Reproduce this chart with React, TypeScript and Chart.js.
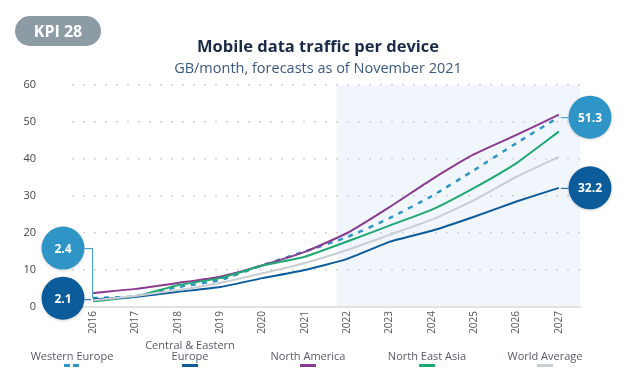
import React, { useEffect, useRef } from "react";
import { Chart, registerables } from "chart.js";

Chart.register(...registerables);

const years = ["2016", "2017", "2018", "2019", "2020", "2021", "2022", "2023", "2024", "2025", "2026", "2027"];
const westernEurope = [2.4, 2.9, 5.4, 7.3, 11.3, 15, 18.9, 24, 30, 37, 44.3, 51.3];
const centralEasternEurope = [2.1, 2.7, 4.1, 5.4, 7.8, 10, 13, 17.6, 20.6, 24.4, 28.5, 32.2];
const northAmerica = [3.8, 4.9, 6.5, 8.2, 11.3, 14.9, 20, 27, 34.5, 41.3, 46.5, 52];
const northEastAsia = [1.5, 2.8, 5.9, 7.8, 11.2, 13.6, 17.7, 22, 26.3, 32.2, 38.9, 47.4];
const worldAverage = [1.8, 3.0, 4.6, 6.5, 9.1, 11.9, 15.4, 19.5, 23.6, 28.9, 35.2, 40.6];
const yTicks = [0, 10, 20, 30, 40, 50, 60];

const C_WE = "#2f95c6";
const C_CEE = "#0c5b9b";
const C_NA = "#8a3b8f";
const C_NEA = "#1ea872";
const C_WA = "#c9ced3";

const legendItems = [
  { label: "Western Europe", color: C_WE, dashed: true, x: 72 },
  { label: "Central & Eastern\nEurope", color: C_CEE, dashed: false, x: 190 },
  { label: "North America", color: C_NA, dashed: false, x: 308 },
  { label: "North East Asia", color: C_NEA, dashed: false, x: 427 },
  { label: "World Average", color: C_WA, dashed: false, x: 545 },
];

const FONT = "'Open Sans', 'DejaVu Sans', sans-serif";

const shadePlugin = {
  id: "shade",
  beforeDraw(chart: any) {
    const { ctx, chartArea, scales } = chart;
    const xs = scales.x;
    const step = xs.getPixelForValue(1) - xs.getPixelForValue(0);
    const x0 = xs.getPixelForValue(5) + step * 0.75;
    ctx.save();
    ctx.fillStyle = "#f0f6fb";
    ctx.fillRect(x0, chartArea.top, chartArea.right - x0, chartArea.bottom - chartArea.top);
    ctx.restore();
  },
};

function circle(ctx: any, x: number, y: number, r: number, color: string, text: string) {
  ctx.save();
  ctx.shadowColor = "rgba(0,0,0,0.18)";
  ctx.shadowBlur = 3;
  ctx.shadowOffsetY = 1;
  ctx.beginPath();
  ctx.arc(x, y, r, 0, Math.PI * 2);
  ctx.fillStyle = color;
  ctx.fill();
  ctx.restore();
  ctx.save();
  ctx.fillStyle = "#ffffff";
  ctx.font = `bold 12px ${FONT}`;
  ctx.textAlign = "center";
  ctx.textBaseline = "middle";
  ctx.fillText(text, x, y + 1);
  ctx.restore();
}

const calloutPlugin = {
  id: "callouts",
  afterDraw(chart: any) {
    const { ctx, scales } = chart;
    const xs = scales.x;
    const ys = scales.y;
    const r = 21.5;
    const xFirst = xs.getPixelForValue(0);
    const xLast = xs.getPixelForValue(years.length - 1);
    const last = years.length - 1;

    const yWE0 = ys.getPixelForValue(westernEurope[0]);
    const yCEE0 = ys.getPixelForValue(centralEasternEurope[0]);
    const cxL = 63;
    const cyWE = yWE0 - 50;
    ctx.save();
    ctx.lineWidth = 1;
    ctx.strokeStyle = C_WE;
    ctx.beginPath();
    ctx.moveTo(cxL + r, cyWE + 0.5);
    ctx.lineTo(xFirst - 0.5, cyWE + 0.5);
    ctx.lineTo(xFirst - 0.5, yWE0);
    ctx.stroke();
    ctx.strokeStyle = C_CEE;
    ctx.beginPath();
    ctx.moveTo(cxL + r, yCEE0 + 0.5);
    ctx.lineTo(xFirst - 2, yCEE0 + 0.5);
    ctx.stroke();
    ctx.restore();
    circle(ctx, cxL, cyWE, r, C_WE, String(westernEurope[0]));
    circle(ctx, cxL, yCEE0 - 1, r, C_CEE, String(centralEasternEurope[0]));

    const cxR = 590;
    const yWEn = ys.getPixelForValue(westernEurope[last]);
    const yCEEn = ys.getPixelForValue(centralEasternEurope[last]);
    ctx.save();
    ctx.lineWidth = 1;
    ctx.strokeStyle = C_WE;
    ctx.beginPath();
    ctx.moveTo(xLast + 2, yWEn + 0.5);
    ctx.lineTo(cxR - r, yWEn + 0.5);
    ctx.stroke();
    ctx.strokeStyle = C_CEE;
    ctx.beginPath();
    ctx.moveTo(xLast + 2, yCEEn + 0.5);
    ctx.lineTo(cxR - r, yCEEn + 0.5);
    ctx.stroke();
    ctx.restore();
    circle(ctx, cxR, yWEn, r, C_WE, String(westernEurope[last]));
    circle(ctx, cxR, yCEEn, r, C_CEE, String(centralEasternEurope[last]));
  },
};

export default function App() {
  const ref = useRef<HTMLCanvasElement>(null);

  useEffect(() => {
    if (!ref.current) return;
    const line = (label: string, data: number[], color: string, extra: any = {}) => ({
      label,
      data,
      borderColor: color,
      backgroundColor: color,
      borderWidth: 2,
      pointRadius: 0,
      tension: 0.15,
      fill: false,
      ...extra,
    });
    const chart = new Chart(ref.current, {
      type: "line",
      data: {
        labels: years,
        datasets: [
          line("World Average", worldAverage, C_WA),
          line("Central & Eastern Europe", centralEasternEurope, C_CEE),
          line("North East Asia", northEastAsia, C_NEA),
          line("North America", northAmerica, C_NA),
          line("Western Europe", westernEurope, C_WE, { borderDash: [5, 6], borderWidth: 2.5 }),
        ],
      },
      options: {
        responsive: false,
        animation: false,
        layout: { padding: { left: 0, right: 46, top: 85, bottom: 53 } },
        plugins: { legend: { display: false }, tooltip: { enabled: false } },
        scales: {
          x: {
            offset: true,
            afterFit: (s: any) => {
              s.height = 30;
            },
            grid: { display: false, drawTicks: false },
            border: { display: true, color: "#e2e2e2", width: 2 },
            ticks: {
              color: "#555",
              font: { family: FONT, size: 10 },
              minRotation: 90,
              maxRotation: 90,
              padding: 4,
              autoSkip: false,
            },
          },
          y: {
            min: 0,
            max: 60,
            afterFit: (s: any) => {
              s.width = 72;
            },
            afterBuildTicks: (s: any) => {
              s.ticks = yTicks.map((v) => ({ value: v }));
            },
            grid: {
              drawTicks: false,
              color: (c: any) => (c.tick && c.tick.value === 0 ? "rgba(0,0,0,0)" : "#d2d2d2"),
              lineWidth: 1.5,
            },
            border: { display: false, dash: [2, 9] },
            ticks: {
              color: "#444",
              font: { family: FONT, size: 11 },
              padding: 36,
            },
          },
        },
      },
      plugins: [shadePlugin, calloutPlugin],
    } as any);
    return () => chart.destroy();
  }, []);

  return (
    <div style={{ position: "fixed", left: 0, top: 0, width: 626, height: 390, background: "#fff", fontFamily: FONT }}>
      <canvas ref={ref} width={626} height={390} style={{ position: "absolute", left: 0, top: 0 }} />
      <div
        style={{
          position: "absolute",
          left: 15,
          top: 16,
          width: 86,
          height: 30,
          borderRadius: 15,
          background: "#8d9ba5",
          color: "#fff",
          fontWeight: 700,
          fontSize: 16,
          lineHeight: "30px",
          textAlign: "center",
        }}
      >
        KPI 28
      </div>
      <div
        style={{
          position: "absolute",
          left: 0,
          width: 636,
          top: 34,
          textAlign: "center",
          color: "#1b2a47",
          fontWeight: 700,
          fontSize: 16.5,
          lineHeight: "24px",
        }}
      >
        Mobile data traffic per device
      </div>
      <div
        style={{
          position: "absolute",
          left: 0,
          width: 636,
          top: 57,
          textAlign: "center",
          color: "#3b587e",
          fontSize: 14.5,
          lineHeight: "22px",
        }}
      >
        GB/month, forecasts as of November 2021
      </div>
      {legendItems.map((it) => {
        const lines = it.label.split("\n");
        return (
          <div key={it.label} style={{ position: "absolute", left: it.x - 70, width: 140, top: 0 }}>
            <div
              style={{
                position: "absolute",
                left: 0,
                width: 140,
                top: 361 - lines.length * 11,
                textAlign: "center",
                color: "#555b66",
                fontSize: 11,
                lineHeight: "11px",
              }}
            >
              {lines.map((l) => (
                <div key={l}>{l}</div>
              ))}
            </div>
            {it.dashed ? (
              <>
                <div style={{ position: "absolute", left: 62, top: 364, width: 6, height: 3, background: it.color }} />
                <div style={{ position: "absolute", left: 71, top: 364, width: 6, height: 3, background: it.color }} />
              </>
            ) : (
              <div style={{ position: "absolute", left: 62, top: 364, width: 16, height: 3, background: it.color }} />
            )}
          </div>
        );
      })}
    </div>
  );
}
